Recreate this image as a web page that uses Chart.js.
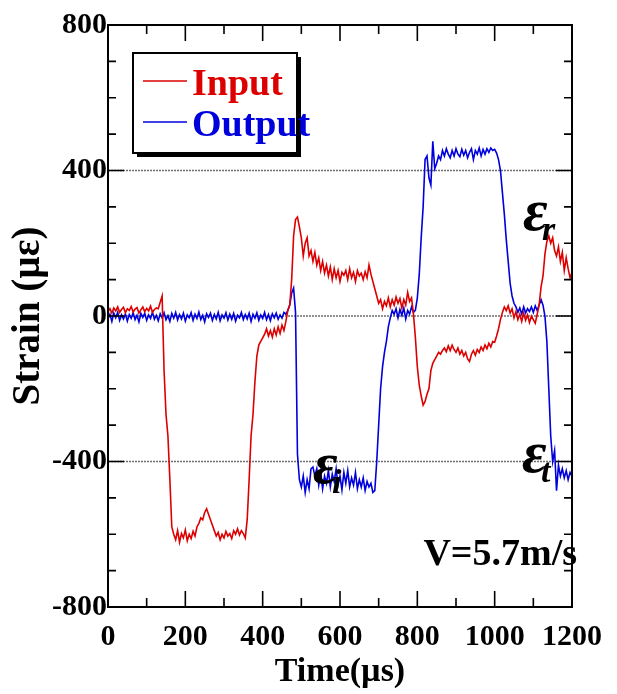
<!DOCTYPE html>
<html>
<head>
<meta charset="utf-8">
<title>Input / Output strain</title>
<script src="https://cdn.jsdelivr.net/npm/chart.js@4"></script>
<style>
  html, body { margin: 0; padding: 0; background: #fff; }
</style>
</head>
<body>
<canvas id="strainChart" width="617" height="694"></canvas>
<script>
// sample times (µs), one row per 100 µs
const time = [
  0, 5, 10, 15, 20, 25, 30, 35, 40, 45, 50, 55, 60, 65, 70, 75, 80, 85, 90, 95,
  100, 105, 110, 115, 120, 125, 130, 135, 140, 145, 150, 155, 160, 165, 170, 175, 180, 185, 190, 195,
  200, 205, 210, 215, 220, 225, 230, 235, 240, 245, 250, 255, 260, 265, 270, 275, 280, 285, 290, 295,
  300, 305, 310, 315, 320, 325, 330, 335, 340, 345, 350, 355, 360, 365, 370, 375, 380, 385, 390, 395,
  400, 405, 410, 415, 420, 425, 430, 435, 440, 445, 450, 455, 460, 465, 470, 475, 480, 485, 490, 495,
  500, 505, 510, 515, 520, 525, 530, 535, 540, 545, 550, 555, 560, 565, 570, 575, 580, 585, 590, 595,
  600, 605, 610, 615, 620, 625, 630, 635, 640, 645, 650, 655, 660, 665, 670, 675, 680, 685, 690, 695,
  700, 705, 710, 715, 720, 725, 730, 735, 740, 745, 750, 755, 760, 765, 770, 775, 780, 785, 790, 795,
  800, 805, 810, 815, 820, 825, 830, 835, 840, 845, 850, 855, 860, 865, 870, 875, 880, 885, 890, 895,
  900, 905, 910, 915, 920, 925, 930, 935, 940, 945, 950, 955, 960, 965, 970, 975, 980, 985, 990, 995,
  1000, 1005, 1010, 1015, 1020, 1025, 1030, 1035, 1040, 1045, 1050, 1055, 1060, 1065, 1070, 1075, 1080, 1085, 1090, 1095,
  1100, 1105, 1110, 1115, 1120, 1125, 1130, 1135, 1140, 1145, 1150, 1155, 1160, 1165, 1170, 1175, 1180, 1185, 1190, 1195,
  1200
];

// incident + reflected wave (µε)
const inputStrain = [
  12, 20, 8, 22, 14, 25, 10, 18, 24, 9, 20, 15, 26, 11, 19, 23, 8, 17, 25, 12,
  21, 14, 27, 10, 18, 22, 20, 38, 55, -150, -270, -330, -450, -580, -600, -615, -590, -622, -598, -610,
  -588, -618, -600, -612, -592, -605, -580, -570, -555, -560, -540, -530, -545, -560, -575, -590, -605, -595, -615, -600,
  -610, -592, -605, -598, -612, -590, -600, -585, -602, -590, -598, -610, -560, -450, -330, -270, -180, -110, -80, -70,
  -60, -50, -35, -55, -40, -58, -35, -52, -30, -48, -25, -40, -15, 15, 30, 100, 220, 265, 272, 245,
  215, 165, 200, 215, 165, 180, 150, 175, 140, 160, 125, 150, 118, 140, 110, 135, 100, 130, 105, 125,
  95, 120, 112, 125, 100, 130, 105, 120, 95, 125, 110, 118, 100, 122, 105, 140, 115, 95, 75, 55,
  35, 45, 20, 40, 28, 50, 25, 45, 30, 52, 35, 48, 22, 45, 30, 65, 40, 50, 5, -60,
  -140, -190, -220, -245, -235, -215, -200, -150, -130, -120, -110, -100, -105, -95, -88, -98, -82, -95, -80, -92,
  -100, -88, -105, -95, -110, -100, -118, -125, -105, -95, -108, -92, -100, -85, -95, -80, -90, -75, -85, -70,
  -72, -55, -35, -10, 10, 25, 15, 28, 8, 20, -5, 12, -10, 5, -15, 8, -12, 3, -18, 0,
  -10, -20, 5, 30, 80, 110, 170, 205, 220, 200, 215, 180, 165, 190, 150, 175, 125, 160, 130, 105,
  120
];

// transmitted wave (µε)
const outputStrain = [
  -8, 5, -15, 8, -5, 10, -12, 3, -8, 6, -14, 4, -6, 9, -10, 2, -16, 7, -4, 8,
  -12, 3, -7, 10, -9, 2, -13, 6, -5, 9, -10, 1, -15, 7, -6, 10, -11, 4, -8, 8,
  -14, 3, -5, 9, -12, 5, -7, 11, -10, 2, -16, 6, -4, 8, -12, 4, -8, 10, -13, 3,
  -6, 9, -11, 5, -9, 7, -14, 2, -5, 10, -10, 4, -8, 8, -15, 5, -6, 9, -12, 3,
  -7, 10, -10, 4, -13, 6, -5, 8, -9, 3, -6, 10, 5, 15, 30, 63, 77, 10, -380, -450,
  -470, -440, -485, -450, -475, -420, -415, -440, -420, -465, -430, -475, -440, -460, -425, -470, -435, -455, -420, -465,
  -440, -478, -430, -460, -425, -470, -445, -465, -430, -475, -450, -470, -445, -480, -455, -470, -460, -485, -480, -400,
  -300, -200, -140, -100, -70, -30, -5, 15, 5, 20, -5, 18, 2, 22, -8, 15, 5, 25, 10, 16,
  50, 115, 215, 300, 430, 440, 380, 360, 480, 405, 420, 440, 430, 455, 440, 460, 445, 435, 455, 440,
  460, 445, 438, 458, 442, 455, 435, 450, 460, 430, 455, 445, 462, 440, 458, 445, 460, 450, 462, 455,
  458, 448, 430, 400, 340, 280, 210, 150, 90, 55, 35, 25, 10, 22, 5, 25, 8, 20, 12, 25,
  10, 28, 15, 30, 45, 30, 0, -70, -200, -330, -400, -370, -480, -410, -440, -420, -445, -425, -450, -430,
  -440
];

const seriesNames = ['Input', 'Output'];
const seriesColors = ['#dd0000', '#0000dd'];
const xTicks = [0, 200, 400, 600, 800, 1000, 1200];
const yTicks = [-800, -400, 0, 400, 800];
const gridLevels = [400, 0, -400];

// text labels placed in data units
const notes = [
  { main: 'ε', sub: 'r', t: 1073, v: 236 },
  { main: 'ε', sub: 'i', t: 530, v: -459 },
  { main: 'ε', sub: 't', t: 1071, v: -429 }
];
const speedNote = { text: 'V=5.7m/s', t: 1213, v: -684 };

const SERIF = '"Liberation Serif", "Times New Roman", serif';

const framePlugin = {
  id: 'frame',
  beforeDatasetsDraw(chart) {
    const { ctx, chartArea: a, scales: { y } } = chart;
    ctx.save();
    ctx.strokeStyle = '#6e6e6e';
    ctx.lineWidth = 1.6;
    ctx.setLineDash([2, 1]);
    gridLevels.forEach(v => {
      const py = y.getPixelForValue(v);
      ctx.beginPath();
      ctx.moveTo(a.left, py);
      ctx.lineTo(a.right, py);
      ctx.stroke();
    });
    ctx.restore();
  },
  afterDatasetsDraw(chart) {
    const { ctx, chartArea: a, scales: { x, y } } = chart;
    ctx.save();
    ctx.strokeStyle = '#000';
    ctx.lineWidth = 2;
    ctx.strokeRect(a.left, a.top, a.right - a.left, a.bottom - a.top);
    ctx.lineWidth = 1.6;
    ctx.beginPath();
    for (let t = 0; t <= 1200; t += 100) {
      const px = x.getPixelForValue(t);
      const len = t % 200 === 0 ? 16 : 9;
      ctx.moveTo(px, a.bottom); ctx.lineTo(px, a.bottom - len);
      ctx.moveTo(px, a.top); ctx.lineTo(px, a.top + len);
    }
    for (let v = -800; v <= 800; v += 100) {
      const py = y.getPixelForValue(v);
      const len = v % 400 === 0 ? 16 : 8;
      ctx.moveTo(a.left, py); ctx.lineTo(a.left + len, py);
      ctx.moveTo(a.right, py); ctx.lineTo(a.right - len, py);
    }
    ctx.stroke();
    ctx.restore();
  },
  afterDraw(chart) {
    const { ctx, chartArea: a, scales: { x, y } } = chart;
    ctx.save();

    // legend box with drop shadow
    const bx = a.left + 25, by = a.top + 28, bw = 164, bh = 100;
    ctx.fillStyle = '#000';
    ctx.fillRect(bx + 4, by + 4, bw, bh);
    ctx.fillStyle = '#fff';
    ctx.fillRect(bx, by, bw, bh);
    ctx.strokeStyle = '#000';
    ctx.lineWidth = 2;
    ctx.strokeRect(bx, by, bw, bh);
    ctx.font = 'bold 38px ' + SERIF;
    ctx.textBaseline = 'alphabetic';
    ctx.textAlign = 'left';
    chart.data.datasets.forEach((ds, i) => {
      const ly = by + 28 + i * 41;
      ctx.strokeStyle = ds.borderColor;
      ctx.lineWidth = 1.5;
      ctx.beginPath();
      ctx.moveTo(bx + 10, ly);
      ctx.lineTo(bx + 54, ly);
      ctx.stroke();
      ctx.fillStyle = ds.borderColor;
      ctx.fillText(ds.label, bx + 59, ly + 14);
    });

    // strain symbols
    ctx.fillStyle = '#000';
    notes.forEach(n => {
      const px = x.getPixelForValue(n.t);
      const py = y.getPixelForValue(n.v);
      ctx.font = 'italic bold 60px ' + SERIF;
      ctx.fillText(n.main, px, py);
      ctx.font = 'italic bold 34px ' + SERIF;
      ctx.fillText(n.sub, px + 19, py + 10);
    });

    ctx.font = 'bold 38px ' + SERIF;
    ctx.textAlign = 'right';
    ctx.fillText(speedNote.text, x.getPixelForValue(speedNote.t), y.getPixelForValue(speedNote.v));
    ctx.restore();
  }
};

const ctx = document.getElementById('strainChart').getContext('2d');

new Chart(ctx, {
  type: 'line',
  data: {
    labels: time,
    datasets: [
      { label: seriesNames[0], data: inputStrain, borderColor: seriesColors[0], borderWidth: 1.6, pointRadius: 0, tension: 0, fill: false },
      { label: seriesNames[1], data: outputStrain, borderColor: seriesColors[1], borderWidth: 1.6, pointRadius: 0, tension: 0, fill: false }
    ]
  },
  options: {
    responsive: false,
    animation: false,
    events: [],
    layout: { padding: { top: 25, right: 45, left: 0, bottom: 0 } },
    plugins: { legend: { display: false }, tooltip: { enabled: false } },
    scales: {
      x: {
        type: 'linear',
        min: 0,
        max: 1200,
        grid: { display: false, drawTicks: false },
        border: { display: false },
        afterBuildTicks: s => { s.ticks = xTicks.map(v => ({ value: v })); },
        afterFit: s => { s.height = 87; },
        ticks: {
          padding: 12,
          maxRotation: 0,
          color: '#000',
          callback: v => String(v),
          font: { family: SERIF, size: 30, weight: 'bold' }
        },
        title: {
          display: true,
          text: 'Time(µs)',
          color: '#000',
          padding: { top: 0, bottom: 1 },
          font: { family: SERIF, size: 34, weight: 'bold' }
        }
      },
      y: {
        min: -800,
        max: 800,
        grid: { display: false, drawTicks: false },
        border: { display: false },
        afterBuildTicks: s => { s.ticks = yTicks.map(v => ({ value: v })); },
        afterFit: s => { s.width = 108; },
        ticks: {
          padding: 1,
          color: '#000',
          callback: v => String(v),
          font: { family: SERIF, size: 30, weight: 'bold' }
        },
        title: {
          display: true,
          text: 'Strain (µε)',
          color: '#000',
          padding: { top: 6, bottom: 0 },
          font: { family: SERIF, size: 39, weight: 'bold' }
        }
      }
    }
  },
  plugins: [framePlugin]
});
</script>
</body>
</html>
